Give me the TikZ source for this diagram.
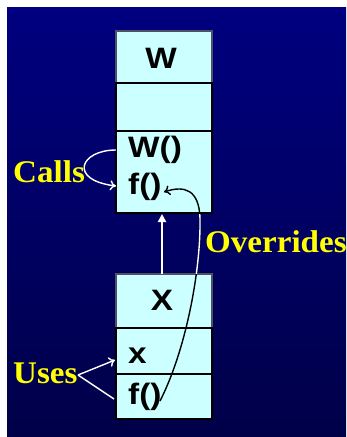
\documentclass[tikz,border=0pt]{standalone}
\usepackage{fontspec}
\setmainfont{Liberation Serif}[FakeStretch=1.05]
\newfontfamily\boxfont{Liberation Sans}[FakeStretch=1.13]
\usetikzlibrary{arrows.meta}
\definecolor{bgtop}{RGB}{0,0,128}
\definecolor{bgbot}{RGB}{0,0,72}
\definecolor{cellfill}{RGB}{204,255,255}
\definecolor{lab}{RGB}{255,255,0}
\definecolor{hdrline}{RGB}{80,80,100}
\begin{document}
\begin{tikzpicture}[x=1pt,y=-1pt,
  cell/.style={draw=black, line width=1.6pt, fill=cellfill, minimum width=96pt, inner sep=0pt, outer sep=0pt},
  hdr/.style={cell, draw=hdrline},
  boxtxt/.style={font=\boxfont\bfseries\fontsize{29.5}{29.5}\selectfont, inner sep=0pt, text=black},
  labtxt/.style={font=\bfseries\fontsize{31.5}{31.5}\selectfont, inner sep=0pt, text=lab, anchor=base west},
  wline/.style={draw=white, line width=1.4pt},
  opentip/.style={-{To[length=6pt,width=10pt]}}
]
\useasboundingbox (0,0) rectangle (346,437);
\fill[white] (0,0) rectangle (346,437);
\shade[top color=bgtop, bottom color=bgbot] (7,7) rectangle (346,437);

% class W
\node[hdr, minimum height=52pt] (wh) at (164,57) {};
\node[cell, minimum height=48pt] (wm) at (164,107) {};
\node[cell, minimum height=82pt] (wl) at (164,172) {};
% class X
\node[hdr, minimum height=54pt] (xh) at (164,301) {};
\node[cell, minimum height=46pt] (xm) at (164,351) {};
\node[cell, minimum height=45pt] (xl) at (164,396.5) {};

% texts
\node[boxtxt, anchor=base] (wname) at (161,68) {W};
\node[boxtxt, anchor=base west] (wctor) at (128,157) {W()};
\node[boxtxt, anchor=base west] (wf) at (128,194) {f()};
\node[boxtxt, anchor=base] (xname) at (162,310) {X};
\node[boxtxt, anchor=base west] (xx) at (128,363) {x};
\node[boxtxt, anchor=base west] (xf) at (128,404) {f()};

% labels
\node[labtxt] (calls) at (13,182) {Calls};
\node[labtxt] (uses) at (13,383) {Uses};
\node[labtxt] (over) at (205,252) {Overrides};

% connector end points
\coordinate (cs) at (116,150);
\coordinate (ce) at (116,186);
\coordinate (us) at (78,375);
\coordinate (ux) at (115,360);
\coordinate (uf) at (114,399);
\coordinate (ia) at (162,274);
\coordinate (ib) at (162,214);
\coordinate (o1) at (160,401);
\coordinate (o2) at (200,218);
\coordinate (o3) at (164,192);

% Calls
\draw[wline, opentip] (cs) .. controls (80,150) and (68,180) .. (ce);
% Uses
\draw[wline, opentip] (us) -- (ux);
\draw[wline] (us) -- (uf);
% inheritance
\draw[draw=white, line width=2pt, -{Triangle[length=8pt,width=8pt]}] (ia) -- (ib);
% Overrides (black inside boxes, white between them)
\draw[draw=black, line width=1.4pt, opentip] (o1) .. controls (186,350) and (201,270) .. (o2) .. controls (199,190) and (185,185) .. (o3);
\begin{scope}
  \clip (117,214.5) rectangle (211,273.2);
  \draw[wline] (o1) .. controls (186,350) and (201,270) .. (o2) .. controls (199,190) and (185,185) .. (o3);
\end{scope}
\end{tikzpicture}
\end{document}
